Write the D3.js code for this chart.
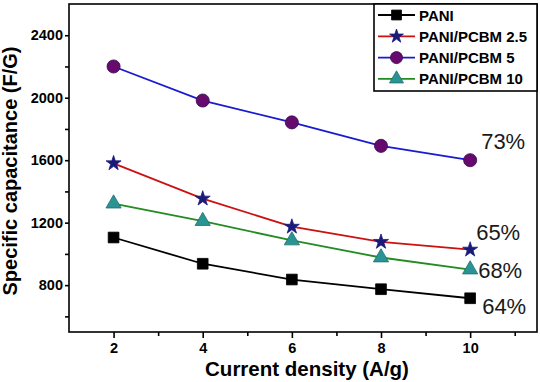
<!DOCTYPE html>
<html>
<head>
<meta charset="utf-8">
<script src="https://cdn.jsdelivr.net/npm/d3@7"></script>
<style>
  html, body { margin: 0; padding: 0; background: #fff; }
  svg { display: block; font-family: Arial, "Liberation Sans", sans-serif; }
</style>
</head>
<body>
<div id="chart"></div>
<script>
const currentDensity = [2, 4, 6, 8, 10];
const pani = [1105, 937, 836, 774, 716];
const pcbm25 = [1580, 1354, 1174, 1077, 1027];
const pcbm5 = [2200, 1982, 1842, 1692, 1600];
const pcbm10 = [1322, 1210, 1086, 977, 900];
const seriesNames = ['PANI', 'PANI/PCBM 2.5', 'PANI/PCBM 5', 'PANI/PCBM 10'];
const retention = ['64%', '65%', '73%', '68%'];
const xTicks = [2, 4, 6, 8, 10];
const yTicks = [800, 1200, 1600, 2000, 2400];

const series = [
  { name: seriesNames[0], values: pani, line: '#000000', fill: '#000000', stroke: '#000000', symbol: d3.symbolSquare, size: 115, label: retention[0], dx: 12, dy: 16 },
  { name: seriesNames[1], values: pcbm25, line: '#cc1111', fill: '#1a1a7a', stroke: '#1a1a7a', symbol: d3.symbolStar, size: 70, label: retention[1], dx: 6, dy: -10 },
  { name: seriesNames[2], values: pcbm5, line: '#1a1ad0', fill: '#660a6e', stroke: '#3a0a50', symbol: d3.symbolCircle, size: 135, label: retention[2], dx: 11, dy: -11 },
  { name: seriesNames[3], values: pcbm10, line: '#228b22', fill: '#2a9494', stroke: '#1f6f6f', symbol: d3.symbolTriangle, size: 100, label: retention[3], dx: 8, dy: 8 }
];

const width = 540, height = 382;
const m = { left: 69, right: 537, top: 4, bottom: 332 };

const svg = d3.select('#chart').append('svg')
  .attr('width', width)
  .attr('height', height);

const x = d3.scaleLinear().domain([1, 11.5]).range([m.left, m.right]);
const y = d3.scaleLinear().domain([500, 2600]).range([m.bottom, m.top]);

// frame
svg.append('rect')
  .attr('x', m.left).attr('y', m.top)
  .attr('width', m.right - m.left).attr('height', m.bottom - m.top)
  .attr('fill', 'none').attr('stroke', '#000').attr('stroke-width', 1.6);

// x axis
const xAxis = d3.axisBottom(x)
  .tickValues(d3.range(2, 12, 1))
  .tickSize(6)
  .tickFormat(d => xTicks.includes(d) ? d : '');
const gx = svg.append('g')
  .attr('transform', `translate(0,${m.bottom})`)
  .call(xAxis);
gx.select('.domain').remove();
gx.selectAll('.tick line')
  .attr('stroke-width', 1.6)
  .attr('y2', d => xTicks.includes(d) ? 6 : 4);
gx.selectAll('.tick text')
  .attr('y', 11)
  .style('font-size', '14.5px')
  .style('font-weight', 'bold')
  .style('font-family', 'Arial, "Liberation Sans", sans-serif')
  .attr('fill', '#000');

// y axis
const yAxis = d3.axisLeft(y)
  .tickValues(d3.range(600, 2600, 200))
  .tickSize(4)
  .tickFormat(d => yTicks.includes(d) ? d : '');
const gy = svg.append('g')
  .attr('transform', `translate(${m.left},0)`)
  .call(yAxis);
gy.select('.domain').remove();
gy.selectAll('.tick line').attr('stroke-width', 1.6);
gy.selectAll('.tick text')
  .attr('x', -6)
  .style('font-size', '14.5px')
  .style('font-weight', 'bold')
  .style('font-family', 'Arial, "Liberation Sans", sans-serif')
  .attr('fill', '#000');

// axis titles
svg.append('text')
  .attr('x', 307)
  .attr('y', 376)
  .attr('text-anchor', 'middle')
  .style('font-size', '20.5px')
  .style('font-weight', 'bold')
  .text('Current density (A/g)');

svg.append('text')
  .attr('transform', 'rotate(-90)')
  .attr('x', -171)
  .attr('y', 17)
  .attr('text-anchor', 'middle')
  .style('font-size', '20px')
  .style('font-weight', 'bold')
  .text('Specific capacitance (F/G)');

// lines and markers
const line = d3.line()
  .x((d, i) => x(currentDensity[i]))
  .y(d => y(d));

series.forEach(s => {
  svg.append('path')
    .datum(s.values)
    .attr('fill', 'none')
    .attr('stroke', s.line)
    .attr('stroke-width', 1.8)
    .attr('d', line);

  svg.selectAll(null)
    .data(s.values)
    .enter()
    .append('path')
    .attr('transform', (d, i) => `translate(${x(currentDensity[i])},${y(d)})`)
    .attr('d', d3.symbol().type(s.symbol).size(s.size))
    .attr('fill', s.fill)
    .attr('stroke', s.stroke)
    .attr('stroke-width', 0.8);

  const last = s.values.length - 1;
  svg.append('text')
    .attr('x', x(currentDensity[last]) + s.dx)
    .attr('y', y(s.values[last]) + s.dy)
    .style('font-size', '22px')
    .attr('fill', '#1a1a1a')
    .text(s.label);
});

// legend
const legend = svg.append('g');
legend.append('rect')
  .attr('x', 374).attr('y', m.top)
  .attr('width', m.right - 374).attr('height', 87)
  .attr('fill', '#fff').attr('stroke', '#000').attr('stroke-width', 1.6);

series.forEach((s, i) => {
  const ly = 15 + i * 21.3;
  legend.append('line')
    .attr('x1', 378).attr('x2', 415)
    .attr('y1', ly).attr('y2', ly)
    .attr('stroke', s.line).attr('stroke-width', 1.8);
  legend.append('path')
    .attr('transform', `translate(396.5,${ly})`)
    .attr('d', d3.symbol().type(s.symbol).size(s.size * 0.85))
    .attr('fill', s.fill)
    .attr('stroke', s.stroke)
    .attr('stroke-width', 0.8);
  legend.append('text')
    .attr('x', 419)
    .attr('y', ly + 5.5)
    .style('font-size', '15px')
    .style('font-weight', 'bold')
    .text(s.name);
});
</script>
</body>
</html>
